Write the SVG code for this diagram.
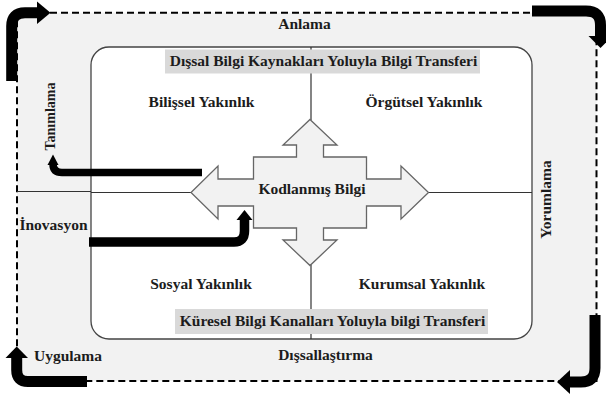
<svg xmlns="http://www.w3.org/2000/svg" width="606" height="394" viewBox="0 0 606 394">
<style>
.t{font-family:"Liberation Serif","Times New Roman",serif;font-weight:bold;font-size:15.5px;fill:#1c1c1c}
.m{text-anchor:middle}
.ln{stroke:#333;stroke-width:1.2;fill:none}
.thick{stroke:#000;fill:none;stroke-linecap:butt}
.head{fill:#000}
.box{fill:#d9d9d9}
</style>
<rect width="606" height="394" fill="#fff"/>
<g id="frame">
<rect x="17" y="12.7" width="579.5" height="368.3" fill="#f2f2f2" stroke="#000" stroke-width="2" stroke-dasharray="7 4"/>
</g>
<g id="inner">
<rect x="91" y="47" width="441" height="292" rx="18" ry="18" fill="#fff" stroke="#444" stroke-width="1.3"/>
</g>
<g id="connectors">
<line class="ln" x1="17" y1="191.5" x2="91" y2="191.5"/>
<line class="ln" x1="91" y1="192.5" x2="192" y2="192.5"/>
<line class="ln" x1="428" y1="192.5" x2="532" y2="192.5"/>
<line class="ln" x1="311" y1="47" x2="311" y2="120"/>
<line class="ln" x1="311" y1="265" x2="311" y2="339"/>
<path class="thick" stroke-width="11" d="M11.7 81 V26 Q11.7 12.7 25 12.7 H38"/>
<polygon class="head" points="37,1.5 50.5,12.7 37,24"/>
<path class="thick" stroke-width="11" d="M532 11 H586 Q600.5 11 600.5 25 V37"/>
<polygon class="head" points="588.5,36 612.5,36 600.5,48"/>
<path class="thick" stroke-width="11" d="M595 315 V368 Q595 382 581 382 H569"/>
<polygon class="head" points="570,370 570,394 557,382"/>
<path class="thick" stroke-width="11" d="M87 381.5 H28 Q16.7 381.5 16.7 370 V357"/>
<polygon class="head" points="5.5,358 28,358 16.7,346.5"/>
<path class="thick" stroke-width="7.5" d="M202 172.5 H62 Q53 172.5 53 164"/>
<polygon class="head" points="47.5,165 58.5,165 53,154.5"/>
<path class="thick" stroke-width="9.5" d="M89 242 H234 Q244.5 242 244.5 231 V219"/>
<polygon class="head" points="236.5,220 252.5,220 244.5,210"/>
</g>
<g id="cross">
<path d="M310 119.5 L337 145 L323.5 145 L323.5 157 L366.5 157 L366.5 179 L401 179 L401 166 L428.5 192.5 L401 219 L401 206 L366.5 206 L366.5 228 L323.5 228 L323.5 240 L337 240 L310 265.5 L283 240 L296.5 240 L296.5 228 L253.5 228 L253.5 206 L218 206 L218 219 L191 192.5 L218 166 L218 179 L253.5 179 L253.5 157 L296.5 157 L296.5 145 L283 145 Z" fill="#f2f2f2" stroke="#666" stroke-width="1.3" stroke-linejoin="miter"/>
<text class="t m" x="312" y="194">Kodlanmış Bilgi</text>
</g>
<g id="top-box">
<rect class="box" x="165" y="49.5" width="315" height="24"/>
<text class="t m" x="323.5" y="65.5">Dışsal Bilgi Kaynakları Yoluyla Bilgi Transferi</text>
</g>
<g id="bottom-box">
<rect class="box" x="175" y="309" width="313" height="25"/>
<text class="t m" x="332.5" y="325.7">Küresel Bilgi Kanalları Yoluyla bilgi Transferi</text>
</g>
<g id="bilissel"><text class="t m" x="201.5" y="106.5">Bilişsel Yakınlık</text></g>
<g id="orgutsel"><text class="t m" x="424" y="106.5">Örgütsel Yakınlık</text></g>
<g id="sosyal"><text class="t m" x="201" y="289">Sosyal Yakınlık</text></g>
<g id="kurumsal"><text class="t m" x="422" y="289">Kurumsal Yakınlık</text></g>
<g id="anlama"><text class="t m" x="304.5" y="28.5">Anlama</text></g>
<g id="dissallastirma"><text class="t m" x="325.5" y="359.7">Dışsallaştırma</text></g>
<g id="uygulama"><text class="t m" x="68" y="360.5">Uygulama</text></g>
<g id="inovasyon"><text class="t m" x="53.5" y="230">İnovasyon</text></g>
<g id="tanimlama"><text class="t m" transform="translate(54.5,116.5) rotate(-90)" x="0" y="0" style="font-size:14px">Tanımlama</text></g>
<g id="yorumlama"><text class="t m" transform="translate(551,199.5) rotate(-90)" x="0" y="0">Yorumlama</text></g>
</svg>
